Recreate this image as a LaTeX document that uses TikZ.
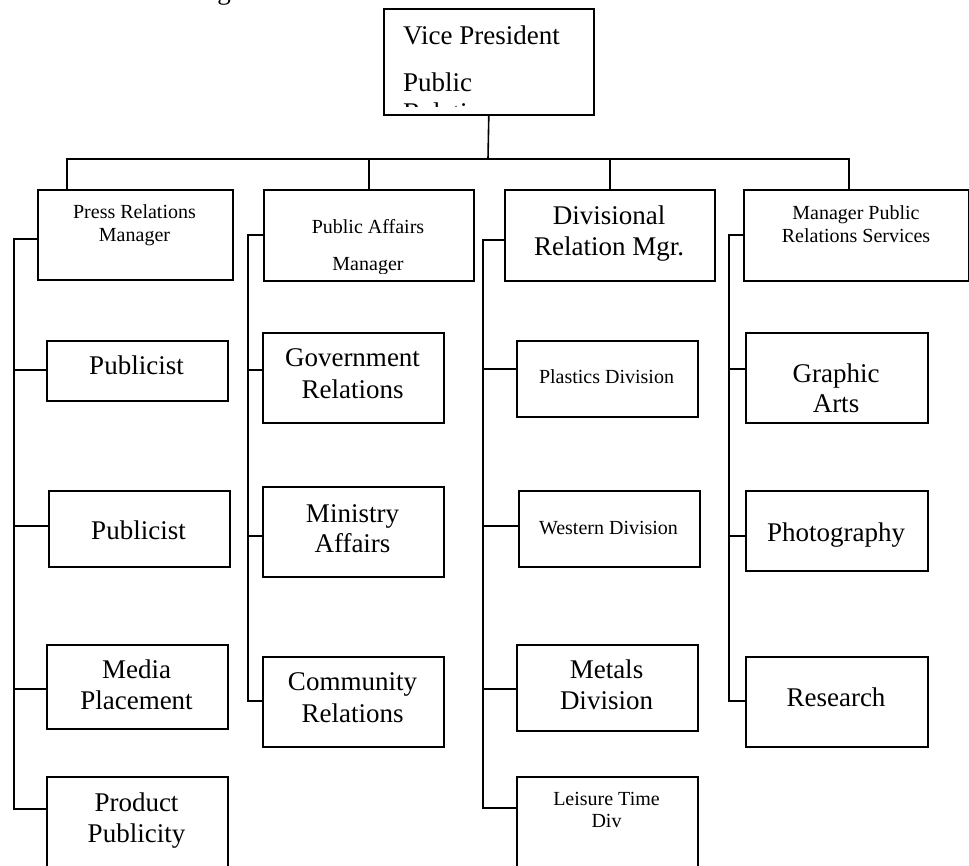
\documentclass[tikz,border=0pt]{standalone}
\usepackage{fontspec}
\setmainfont{Liberation Serif}
\newcommand\orgbox[5]{\node[box, minimum width=#4pt, minimum height=#5pt] (#1) at (#2,#3) {};}
\begin{document}
\begin{tikzpicture}[x=1pt,y=-1pt,
  box/.style={draw, line width=1.6pt, inner sep=0pt, anchor=north west},
  lbl/.style={anchor=base, inner sep=0pt, text=black},
  big/.style={font=\fontsize{27}{31}\selectfont},
  sml/.style={font=\fontsize{20}{23}\selectfont},
  conn/.style={line width=1.6pt}]
\useasboundingbox (0,0) rectangle (969,865);
\clip (0,0) rectangle (969,865);
\fill[white] (0,0) rectangle (969,865);

% fragment of a caption above the chart
\node[lbl,big] (frag) at (224,-1) {g};

% boxes
\orgbox{vp}{383}{8}{210}{106}
\orgbox{prm}{37}{189}{195}{90}
\orgbox{pam}{263}{189}{210}{91}
\orgbox{drm}{504}{189}{210}{91}
\orgbox{mps}{743}{189}{225}{91}
\orgbox{pub1}{46}{340}{181}{60}
\orgbox{pub2}{48}{490}{181}{76}
\orgbox{media}{46}{644}{181}{84}
\orgbox{ppub}{46}{776}{181}{120}
\orgbox{gov}{262}{332}{181}{90}
\orgbox{mini}{262}{486}{181}{90}
\orgbox{comm}{262}{656}{181}{90}
\orgbox{plas}{516}{340}{181}{76}
\orgbox{west}{518}{490}{181}{76}
\orgbox{meta}{516}{644}{181}{86}
\orgbox{leis}{516}{776}{181}{120}
\orgbox{grap}{745}{332}{182}{90}
\orgbox{phot}{745}{490}{182}{80}
\orgbox{rese}{745}{656}{182}{90}

% texts
\begin{scope}
\clip (vp.north west) rectangle ([yshift=9pt]vp.south east);
\node[lbl,big,anchor=base west] (vpa) at (403,44) {Vice President};
\node[lbl,big,anchor=base west] (vpb) at (403,91) {Public};
\node[lbl,big,anchor=base west] (vpc) at (403,121) {Relations};
\end{scope}

\node[lbl,sml] (prma) at (134.5,218) {Press Relations};
\node[lbl,sml] (prmb) at (134.5,241) {Manager};

\node[lbl,sml] (pama) at (368,233) {Public Affairs};
\begin{scope}
\clip (263,189) rectangle (473,273);
\node[lbl,sml] (pamb) at (368,270) {Manager};
\end{scope}

\node[lbl,big] (drma) at (609,224) {Divisional};
\node[lbl,big] (drmb) at (609,255) {Relation Mgr.};

\node[lbl,sml] (mpsa) at (856,219) {Manager Public};
\node[lbl,sml] (mpsb) at (856,242) {Relations Services};

\node[lbl,big] (pub1t) at (136.5,374) {Publicist};
\node[lbl,big] (pub2t) at (138.5,539) {Publicist};
\node[lbl,big] (mediaa) at (136.5,678) {Media};
\node[lbl,big] (mediab) at (136.5,709) {Placement};
\node[lbl,big] (ppuba) at (136.5,811) {Product};
\node[lbl,big] (ppubb) at (136.5,842) {Publicity};

\node[lbl,big] (gova) at (352.5,366) {Government};
\node[lbl,big] (govb) at (352.5,398) {Relations};
\node[lbl,big] (minia) at (352.5,522) {Ministry};
\node[lbl,big] (minib) at (352.5,552) {Affairs};
\node[lbl,big] (comma) at (352.5,690) {Community};
\node[lbl,big] (commb) at (352.5,722) {Relations};

\node[lbl,sml] (plast) at (606.5,383) {Plastics Division};
\node[lbl,sml] (westt) at (608.5,534) {Western Division};
\node[lbl,big] (metaa) at (606.5,678) {Metals};
\node[lbl,big] (metab) at (606.5,709) {Division};
\node[lbl,sml] (leisa) at (606.5,805) {Leisure Time};
\node[lbl,sml] (leisb) at (606.5,827) {Div};

\node[lbl,big] (grapa) at (836,382) {Graphic};
\begin{scope}
\clip (745,332) rectangle (927,413);
\node[lbl,big] (grapb) at (836,412) {Arts};
\end{scope}
\node[lbl,big] (phott) at (836,541) {Photography};
\node[lbl,big] (reset) at (836,706) {Research};

% top connectors
\coordinate (bus) at (488,159);
\coordinate (b1) at (67,159);
\coordinate (b4) at (849,159);
\draw[conn] (vp.south) -- (bus);
\draw[conn] (b1 |- prm.north) -- (b1) -- (b4) -- (b4 |- mps.north);
\draw[conn] (pam.north) -- (pam.north |- bus);
\draw[conn] (drm.north) -- (drm.north |- bus);

% column 1
\coordinate (s1t) at (14,239);
\coordinate (s1b) at (14,809);
\coordinate (k11) at (14,370);
\coordinate (k12) at (14,526);
\coordinate (k13) at (14,689);
\draw[conn] (prm.west |- s1t) -- (s1t) -- (s1b) -- (ppub.west |- s1b);
\draw[conn] (k11) -- (pub1.west |- k11);
\draw[conn] (k12) -- (pub2.west |- k12);
\draw[conn] (k13) -- (media.west |- k13);

% column 2
\coordinate (s2t) at (248,235);
\coordinate (s2b) at (248,701);
\coordinate (k21) at (248,370);
\coordinate (k22) at (248,536);
\draw[conn] (pam.west |- s2t) -- (s2t) -- (s2b) -- (comm.west |- s2b);
\draw[conn] (k21) -- (gov.west |- k21);
\draw[conn] (k22) -- (mini.west |- k22);

% column 3
\coordinate (s3t) at (483,240);
\coordinate (s3b) at (483,808);
\coordinate (k31) at (483,369);
\coordinate (k32) at (483,526);
\coordinate (k33) at (483,689);
\draw[conn] (drm.west |- s3t) -- (s3t) -- (s3b) -- (leis.west |- s3b);
\draw[conn] (k31) -- (plas.west |- k31);
\draw[conn] (k32) -- (west.west |- k32);
\draw[conn] (k33) -- (meta.west |- k33);

% column 4
\coordinate (s4t) at (729,235);
\coordinate (s4b) at (729,701);
\coordinate (k41) at (729,369);
\coordinate (k42) at (729,536);
\draw[conn] (mps.west |- s4t) -- (s4t) -- (s4b) -- (rese.west |- s4b);
\draw[conn] (k41) -- (grap.west |- k41);
\draw[conn] (k42) -- (phot.west |- k42);
\end{tikzpicture}
\end{document}
